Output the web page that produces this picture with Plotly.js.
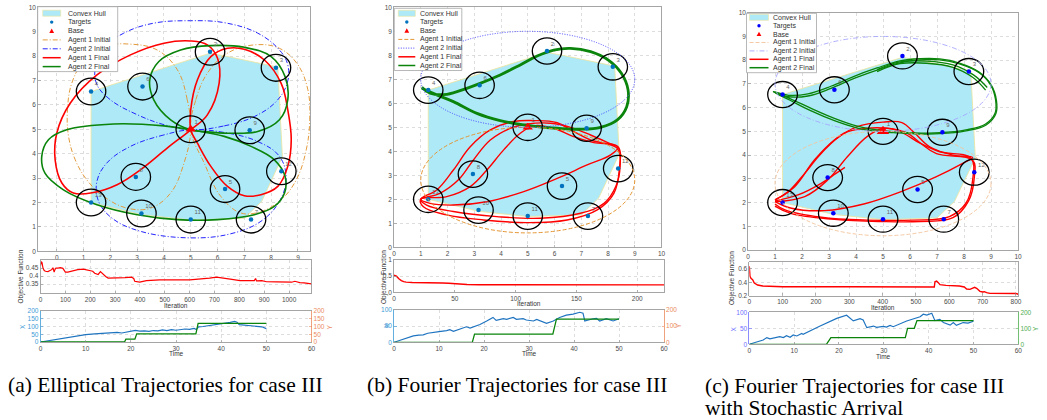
<!DOCTYPE html>
<html><head><meta charset="utf-8">
<script src="https://cdn.plot.ly/plotly-3.0.1.min.js"></script>
<style>html,body{margin:0;padding:0;background:#fff;overflow:hidden}#chart{width:1047px;height:420px}</style>
</head><body><div id="chart"></div>
<script>
// ================= DATA =================
const targetIds = ['1','2','3','4','5','6','7','8','9','10','11','12','13'];
const targetX = [5.0, 5.72, 8.18, 1.28, 6.28, 3.2, 7.25, 2.95, 7.2, 3.16, 5.0, 8.38, 1.28];
const targetY = [5.0, 8.18, 7.52, 6.55, 2.55, 6.75, 1.3, 3.05, 4.96, 1.55, 1.3, 3.28, 2.0];
const baseX = [5.0];
const baseY = [5.0];
const coverRadius = 0.55;
const hullX = [1.28, 5.72, 6.3, 8.25, 8.42, 7.65, 7.0, 5.0, 3.16, 1.28, 1.28];
const hullY = [6.55, 8.12, 8.0, 7.55, 3.88, 2.05, 1.35, 1.28, 1.5, 2.0, 6.55];

// (a) elliptical trajectories (loops separated by null)
const aAgent1InitX = [5.0,4.87,4.5,3.75,2.75,1.75,1.0,0.56,0.4,0.44,0.69,1.12,1.75,2.62,3.5,4.25,4.75,5.0, null,
  5.0,5.19,5.62,6.37,7.37,8.31,9.0,9.37,9.44,9.31,8.94,8.37,7.62,6.87,6.12,5.5,5.0];
const aAgent1InitY = [4.98,6.21,7.44,8.25,8.49,8.39,7.78,6.89,5.8,4.71,3.75,2.93,2.25,1.77,1.77,2.39,3.62,4.98, null,
  4.98,6.21,7.3,8.12,8.46,8.32,7.64,6.62,5.39,4.16,2.93,2.11,1.63,1.57,2.25,3.62,4.98];
const aAgent2InitX = [5.0,6.25,7.37,8.19,8.6,8.62,8.31,7.5,6.25,5.0,3.62,2.5,1.75,1.44,1.5,2.0,3.0,4.0,5.0, null,
  5.0,4.0,2.75,1.87,1.5,1.56,2.06,3.12,5.0,6.5,7.62,8.31,8.56,8.31,7.5,6.25,5.0];
const aAgent2InitY = [4.98,5.14,5.52,6.14,6.89,7.64,8.25,8.94,9.37,9.45,9.35,8.94,8.33,7.58,6.83,6.21,5.6,5.19,4.98, null,
  4.98,4.77,4.3,3.62,2.87,2.05,1.36,0.82,0.55,0.72,1.23,2.05,3.0,3.89,4.5,4.87,4.98];
const aAgent1FinalX = [5.0,5.62,6.06,6.0,5.62,5.0,4.0,2.75,1.5,0.5,0.0,-0.06,0.19,0.62,1.37,2.25,3.12,4.12,5.0, null,
  5.0,5.25,5.75,6.37,7.0,7.62,8.25,8.62,8.75,8.62,8.37,7.75,7.0,6.37,5.75,5.25,5.0,5.0];
const aAgent1FinalY = [4.98,5.59,6.89,7.91,8.46,8.62,8.53,8.05,7.23,6.07,4.84,3.75,2.8,2.39,2.41,2.73,3.34,4.23,4.98, null,
  4.98,4.43,3.48,2.66,2.28,2.32,2.66,3.48,4.57,5.8,6.89,7.84,8.28,8.32,7.98,7.03,5.8,4.98];
const aAgent2FinalX = [5.0,6.25,7.25,8.12,8.52,8.5,8.12,7.37,6.0,4.5,3.0,1.5,0.25,-0.44,-0.56,-0.31,0.37,2.12,4.0,5.0, null,
  5.0,4.25,3.62,3.47,3.81,4.62,5.75,7.0,8.0,8.52,8.62,8.31,7.5,6.37,5.5,5.0];
const aAgent2FinalY = [4.98,4.71,4.3,3.75,3.07,2.39,1.84,1.5,1.3,1.3,1.5,1.91,2.52,3.2,3.89,4.57,4.98,5.22,5.14,4.98, null,
  4.98,5.39,6.21,7.03,7.78,8.25,8.43,8.36,7.98,7.16,6.21,5.39,4.91,4.84,4.91,4.98];

// (b), (c) initial ellipses: [centreX, centreY, semiX, semiY]
const bAgent1InitEllipse = [5.0, 2.8, 4.0, 2.2];
const bAgent2InitEllipse = [5.0, 7.0, 4.0, 2.0];
const cAgent1InitEllipse = [5.0, 2.8, 4.0, 2.2];
const cAgent2InitEllipse = [5.0, 7.0, 4.0, 2.0];

// (b) Fourier final trajectories
const bAgent1FinalX = [1.0,1.72,2.41,2.97,3.6,4.35,5.0,5.85,6.6,7.35,8.1,8.37,8.1,7.22,6.1,4.85,3.47,2.22,1.35,1.0, null,
  1.0,1.6,2.22,2.85,3.6,4.47,5.22,6.1,6.72,7.35,8.35,8.45,8.29,7.85,6.97,5.47,3.85,2.22,1.22,1.0, null,
  1.0,1.97,2.85,3.47,4.1,4.72,5.22,5.97,6.72,7.47,8.37,8.42,8.22,7.6,6.47,4.97,3.35,1.97,1.1,1.0];
const bAgent1FinalY = [2.0,2.25,2.81,3.64,4.47,4.96,5.14,5.17,5.0,4.68,4.31,4.17,3.85,3.43,2.87,2.32,1.9,1.76,1.83,2.0, null,
  2.0,2.39,3.22,4.19,4.89,5.24,5.28,5.19,4.82,4.47,4.12,3.36,2.53,1.83,1.42,1.21,1.28,1.49,1.76,2.0, null,
  2.0,2.11,2.53,3.22,4.06,4.75,5.06,4.96,4.61,4.36,4.19,3.22,2.25,1.56,1.14,1.03,1.14,1.35,1.69,2.0];
const bAgent2FinalX = [1.04,1.35,1.98,2.72,3.22,3.97,4.72,5.35,5.97,6.6,7.35,8.04,8.5,8.75,8.7,8.35,7.72,6.97,6.1,5.35,4.72,3.97,3.1,2.22,1.6,1.04];
const bAgent2FinalY = [6.67,6.42,6.375,6.625,6.83,7.18,7.6,7.97,8.22,8.29,8.15,7.78,7.25,6.56,5.86,5.31,5.0,4.92,4.96,5.03,5.125,5.28,5.58,6.07,6.35,6.625];

// (c) Fourier final trajectories with stochastic arrival
const cAgent1FinalX = [1.0,1.73,2.46,3.2,4.05,5.0,5.7,6.18,6.73,7.59,8.32,7.95,6.98,5.76,4.29,2.83,1.61,1.0, null,
  1.0,1.49,2.1,2.71,3.56,4.41,5.15,5.88,6.37,6.98,8.32,8.38,8.17,7.59,6.37,4.9,3.2,1.61,1.0, null,
  1.0,2.1,2.95,3.68,4.41,5.02,5.63,6.37,7.1,8.26,8.32,8.07,7.46,6.12,4.41,2.71,1.37,1.0, null,
  1.0,1.85,2.71,3.26,3.59];
const cAgent1FinalY = [2.11,2.67,3.79,4.63,5.2,5.39,5.37,4.92,4.35,4.0,3.9,3.65,3.09,2.5,1.94,1.66,1.76,2.04, null,
  2.11,2.46,3.23,4.07,4.92,5.13,5.13,4.94,4.52,4.06,3.78,3.05,2.07,1.36,1.2,1.2,1.29,1.53,1.85, null,
  2.04,2.25,2.95,3.93,4.78,5.13,4.99,4.5,4.14,3.86,2.95,1.97,1.41,1.26,1.26,1.38,1.69,1.94, null,
  2.07,2.32,2.81,3.23,3.48];
const cAgent2FinalX = [0.94,1.49,2.22,3.07,3.93,4.78,5.63,6.37,7.1,7.83,8.56,8.99,9.17,9.15,8.8,8.07,7.1,6.12,5.39,4.78,4.05,3.2,2.34,1.61,0.94, null,
  0.94,1.5,2.22,3.07,3.93,4.78,5.63,6.37,7.1,7.83,8.56,9.0,9.2,9.18,8.82,8.07,7.1,6.12,5.39,4.78,4.05,3.2,2.34,1.61,0.94, null,
  4.78,5.63,6.61,7.59,8.32,8.8, null,
  4.78,5.63,6.61,7.59,8.35,8.86];
const cAgent2FinalY = [6.67,6.46,6.49,6.81,7.23,7.58,7.89,8.01,8.01,7.84,7.47,6.95,6.32,5.76,5.31,5.06,4.94,4.94,4.99,5.06,5.22,5.55,5.97,6.35,6.67, null,
  6.67,6.52,6.58,6.9,7.32,7.67,7.97,8.06,8.05,7.88,7.5,6.97,6.32,5.74,5.27,5.02,4.9,4.9,4.95,5.0,5.14,5.45,5.86,6.28,6.67, null,
  7.52,7.85,7.87,7.7,7.28,6.74, null,
  7.6,7.93,7.96,7.8,7.38,6.85];

// objective function histories
const aIter = [0,3,6,10,15,20,30,40,45,50,55,58,62,70,80,90,100,110,125,150,172,198,210,218,232,241,246,252,262,272,300,319,340,366,375,379,390,399,426,450,480,507,540,567,600,641,680,708,730,748,770,802,830,850,860,865,869,890,909,950,989,1010,1023,1043,1060,1090];
const aObjective = [0.465,0.49,0.485,0.45,0.435,0.43,0.428,0.433,0.44,0.452,0.425,0.44,0.45,0.45,0.452,0.448,0.425,0.425,0.432,0.44,0.443,0.437,0.43,0.418,0.41,0.428,0.42,0.408,0.398,0.388,0.388,0.387,0.39,0.393,0.385,0.368,0.364,0.363,0.372,0.375,0.377,0.377,0.375,0.376,0.377,0.38,0.387,0.394,0.39,0.388,0.38,0.372,0.372,0.37,0.372,0.385,0.37,0.372,0.365,0.364,0.36,0.362,0.368,0.36,0.358,0.352];
const bIter = [0,2,4,6,8,10,15,20,30,40,45,50,55,60,70,100,150,200,222];
const bObjective = [0.53,0.5,0.42,0.36,0.33,0.315,0.305,0.305,0.3,0.29,0.28,0.265,0.25,0.24,0.235,0.235,0.23,0.23,0.23];
const cIter = [0,2,5,10,15,25,40,100,300,550,555,557,562,567,572,590,610,630,645,652,662,670,676,682,692,700,705,712,722,800,807];
const cObjective = [0.64,0.49,0.46,0.44,0.39,0.36,0.345,0.335,0.333,0.325,0.33,0.41,0.42,0.395,0.365,0.355,0.35,0.345,0.33,0.3,0.295,0.31,0.325,0.31,0.265,0.255,0.26,0.245,0.235,0.232,0.222];

// X / Y over time
const aTime = [0,2,4,6,8,9,10,12,14,15,16,17,18,19,20,21,22,23,24,25,26,27,28,29,30,31,32,33,34,34.5,35,36,37,38,39,40,41,42,43,43.5,44,45,46,47,48,49,50];
const aXval = [0,10,20,30,42,44,48,52,56,60,58,62,58,63,70,75,70,72,68,74,72,78,74,80,76,82,84,82,88,80,98,100,104,108,112,118,122,127,133,128,112,110,106,104,100,98,86];
const aYtime = [0,18.6,18.9,20.9,21.3,34.4,34.9,50];
const aYval = [0,0,18,18,53,53,120,120];
const bTime = [0,2,4.3,5.5,6.5,7.5,8.7,10,11.7,12.4,13.2,14.5,16.1,16.9,18,19.1,20.6,22,22.7,24.3,25,26.5,27.2,28.7,29.4,31,31.7,33.1,33.9,35.4,36.8,38.3,39.8,41.3,42,42.4,43.2,44.2,45,45.7,47.2,48.7,50];
const bXval = [0,9,20,22,23,28,31,33,36,39,34,40,48,44,50,55,66,77,68,73,71,77,71,73,69,66,71,63,59,66,77,84,87,93,90,66,70,73,74,66,73,66,73];
const bYtime = [0,17.4,17.9,35.3,36.1,50];
const bYval = [0,0,51,51,143,143];
const cTime = [0,3.1,3.9,4.6,6.8,7.6,8.3,9.1,9.8,10.6,11.7,12,15.8,19.5,21.7,22.5,23.2,24.7,25.4,26.2,27.7,28.4,29.9,30.6,31.4,32.1,33.6,35.1,38.1,38.8,39.6,40.7,41.4,42.5,43.3,44.8,45.5,46.2,47.7,48.8,50];
const cXval = [0,13.5,21,17,24,21,27,22,29,26,34,31,57,81,91,81,73,80,76,52,57,53,56,54,59,55,64,73,86,94,91,97,74,78,68,60,68,59,68,66,72];
const cYtime = [0,17.2,18.2,34.8,35.3,36.8,37.4,50];
const cYval = [0,0,42,42,100,100,148,148];

// text
const legendLabels = ['Convex Hull','Targets','Base','Agent 1 Initial','Agent 2 Initial','Agent 1 Final','Agent 2 Final'];
const axisTitles = {objective:'Objective Function', iteration:'Iteration', time:'Time', x:'X', y:'Y'};
const captions = ['(a) Elliptical Trajectories for case III','(b) Fourier Trajectories for case III','(c) Fourier Trajectories for case III','with Stochastic Arrival'];

// ================= LAYOUT HELPERS =================
const W = 1047, H = 420;
const SANS = 'Liberation Sans, Arial, Helvetica, sans-serif';
const SERIF = 'Liberation Serif, Times New Roman, serif';
const px = v => v / W;
const py = v => 1 - v / H;
const P = {
  aMain:{l:38,r:310,t:7.3,b:251.3}, aObj:{l:40.5,r:311.5,t:260,b:293}, aTime:{l:40.5,r:311.5,t:311,b:342},
  bMain:{l:394,r:661.5,t:7.3,b:247.3}, bObj:{l:394,r:664,t:260,b:292.3}, bTime:{l:394,r:664,t:310,b:342.3},
  cMain:{l:748,r:1018,t:12.7,b:250}, cObj:{l:749.3,r:1018.3,t:262.3,b:295.7}, cTime:{l:749.3,r:1018.3,t:312.3,b:344.3}
};
const FRAME = '#8f8f8f';
function tf(color){ return {family:SANS, size:6.5, color:color || '#4a4a4a'}; }
function ax(p, dir, extra){
  const d = dir === 'x' ? [p.l / W, p.r / W] : [1 - p.b / H, 1 - p.t / H];
  return Object.assign({
    domain:d, showline:true, linecolor:FRAME, linewidth:0.8, mirror:true,
    ticks:'inside', ticklen:2.5, tickcolor:FRAME, tickwidth:0.6, tickfont:tf(),
    showgrid:true, gridcolor:'#cfcfcf', griddash:'dot', gridwidth:0.7,
    zeroline:false, fixedrange:true, automargin:false
  }, extra);
}
const LB_AB = '#3d9ad6', OR_AB = '#ec8a5e', LB_C = '#6f6fff', GR_C = '#4fae4f';
const layout = {
  width:W, height:H, margin:{l:0,r:0,t:0,b:0}, paper_bgcolor:'#ffffff', plot_bgcolor:'#ffffff',
  showlegend:false, font:{family:SANS, size:6.5, color:'#444'}, shapes:[], annotations:[],
  xaxis: ax(P.aMain,'x',{range:[-0.7,9.45], dtick:1, tick0:0, anchor:'y'}),
  yaxis: ax(P.aMain,'y',{range:[0,10], dtick:1, anchor:'x'}),
  xaxis2: ax(P.aObj,'x',{range:[0,1090], dtick:100, anchor:'y2'}),
  yaxis2: ax(P.aObj,'y',{range:[0.295,0.5], tickvals:[0.35,0.4,0.45], ticktext:['0.35','0.4','0.45'], anchor:'x2'}),
  xaxis3: ax(P.aTime,'x',{range:[0,60], dtick:10, anchor:'y3'}),
  yaxis3: ax(P.aTime,'y',{range:[0,200], dtick:50, anchor:'x3', mirror:false, linecolor:LB_AB, tickcolor:LB_AB, tickfont:tf(LB_AB)}),
  yaxis4: ax(P.aTime,'y',{range:[0,200], dtick:50, anchor:'x3', overlaying:'y3', side:'right', showgrid:false, mirror:false, linecolor:OR_AB, tickcolor:OR_AB, tickfont:tf(OR_AB)}),
  xaxis4: ax(P.bMain,'x',{range:[0,10], dtick:1, anchor:'y5'}),
  yaxis5: ax(P.bMain,'y',{range:[0,10], dtick:1, anchor:'x4'}),
  xaxis5: ax(P.bObj,'x',{range:[0,222], dtick:50, anchor:'y6'}),
  yaxis6: ax(P.bObj,'y',{range:[0,1], tickvals:[0,0.5,1], anchor:'x5'}),
  xaxis6: ax(P.bTime,'x',{range:[0,60], dtick:10, anchor:'y7'}),
  yaxis7: ax(P.bTime,'y',{range:[0,100], dtick:50, anchor:'x6', mirror:false, linecolor:LB_AB, tickcolor:LB_AB, tickfont:tf(LB_AB)}),
  yaxis8: ax(P.bTime,'y',{range:[0,200], dtick:100, anchor:'x6', overlaying:'y7', side:'right', showgrid:false, mirror:false, linecolor:OR_AB, tickcolor:OR_AB, tickfont:tf(OR_AB)}),
  xaxis7: ax(P.cMain,'x',{range:[0,10], dtick:1, anchor:'y9'}),
  yaxis9: ax(P.cMain,'y',{range:[0,10], dtick:1, anchor:'x7'}),
  xaxis8: ax(P.cObj,'x',{range:[0,807], dtick:100, anchor:'y10'}),
  yaxis10: ax(P.cObj,'y',{range:[0.2,0.7], tickvals:[0.2,0.4,0.6], anchor:'x8'}),
  xaxis9: ax(P.cTime,'x',{range:[0,60], dtick:10, anchor:'y11'}),
  yaxis11: ax(P.cTime,'y',{range:[0,100], dtick:50, anchor:'x9', mirror:false, linecolor:LB_C, tickcolor:LB_C, tickfont:tf(LB_C)}),
  yaxis12: ax(P.cTime,'y',{range:[0,200], dtick:100, anchor:'x9', overlaying:'y11', side:'right', showgrid:false, mirror:false, linecolor:GR_C, tickcolor:GR_C, tickfont:tf(GR_C)})
};

// ================= TRACES =================
const HULL_FILL = '#aee9f7', HULL_EDGE = '#eee59a';
const RED = '#ff0000', GREEN = '#0a840a', BLUE_LINE = '#1f74c0';
const styles = {
  a:{target:'#0072BD', base:9, init1:{color:'#e39b3c', dash:'5px,2px,1px,2px', width:1}, init2:{color:'#2424ff', dash:'5px,2px,1px,2px', width:1}, fin1:1.6, fin2:1.6},
  b:{target:'#0072BD', base:9, init1:{color:'#e39532', dash:'4px,2px', width:1}, init2:{color:'#4646ff', dash:'1px,1.5px', width:1}, fin1:1.4, fin2:2.8},
  c:{target:'#0000ff', base:11, init1:{color:'#f3c39a', dash:'4px,2px', width:0.9}, init2:{color:'#a6a6ff', dash:'5px,2px,1px,2px', width:0.9}, fin1:1.4, fin2:1.3}
};
const traces = [];
function line(xs, ys, xa, ya, l, shape){
  traces.push({type:'scatter', mode:'lines', x:xs, y:ys, xaxis:xa, yaxis:ya, line:Object.assign({shape:shape||'linear', smoothing:1.1}, l), connectgaps:false, hoverinfo:'skip'});
}
function mainPanel(xa, ya, st, init1, init2, fin1, fin2){
  traces.push({type:'scatter', mode:'lines', x:hullX, y:hullY, xaxis:xa, yaxis:ya, fill:'toself', fillcolor:HULL_FILL, line:{color:HULL_EDGE, width:0.8}, hoverinfo:'skip'});
  if(init1) line(init1[0], init1[1], xa, ya, st.init1, 'spline');
  if(init2) line(init2[0], init2[1], xa, ya, st.init2, 'spline');
  line(fin1[0], fin1[1], xa, ya, {color:RED, width:st.fin1}, 'spline');
  line(fin2[0], fin2[1], xa, ya, {color:GREEN, width:st.fin2}, 'spline');
  traces.push({type:'scatter', mode:'markers+text', x:targetX, y:targetY, text:targetIds, textposition:'top right', textfont:{family:SANS, size:6, color:'#666'}, marker:{color:st.target, size:4.5}, xaxis:xa, yaxis:ya, hoverinfo:'skip', cliponaxis:false});
  traces.push({type:'scatter', mode:'markers', x:baseX, y:baseY, marker:{symbol:'triangle-up', color:'#ff0000', size:st.base, line:{width:0}}, xaxis:xa, yaxis:ya, hoverinfo:'skip'});
  targetX.forEach((tx, i) => layout.shapes.push({type:'circle', xref:xa, yref:ya, x0:tx - coverRadius, x1:tx + coverRadius, y0:targetY[i] - coverRadius, y1:targetY[i] + coverRadius, line:{color:'#000', width:1.3}, layer:'above'}));
}
function ellipseShape(xa, ya, e, l){
  layout.shapes.push({type:'circle', xref:xa, yref:ya, x0:e[0]-e[2], x1:e[0]+e[2], y0:e[1]-e[3], y1:e[1]+e[3], line:l, layer:'above'});
}

mainPanel('x','y', styles.a, [aAgent1InitX, aAgent1InitY], [aAgent2InitX, aAgent2InitY], [aAgent1FinalX, aAgent1FinalY], [aAgent2FinalX, aAgent2FinalY]);
mainPanel('x4','y5', styles.b, null, null, [bAgent1FinalX, bAgent1FinalY], [bAgent2FinalX, bAgent2FinalY]);
ellipseShape('x4','y5', bAgent1InitEllipse, styles.b.init1);
ellipseShape('x4','y5', bAgent2InitEllipse, styles.b.init2);
mainPanel('x7','y9', styles.c, null, null, [cAgent1FinalX, cAgent1FinalY], [cAgent2FinalX, cAgent2FinalY]);
ellipseShape('x7','y9', cAgent1InitEllipse, styles.c.init1);
ellipseShape('x7','y9', cAgent2InitEllipse, styles.c.init2);

line(aIter, aObjective, 'x2','y2', {color:RED, width:1.2});
line(bIter, bObjective, 'x5','y6', {color:RED, width:1.4});
line(cIter, cObjective, 'x8','y10', {color:RED, width:1.4});

line(aTime, aXval, 'x3','y3', {color:BLUE_LINE, width:1.2});
line(aYtime, aYval, 'x3','y4', {color:GREEN, width:1.3});
line(bTime, bXval, 'x6','y7', {color:BLUE_LINE, width:1.2});
line(bYtime, bYval, 'x6','y8', {color:GREEN, width:1.3});
line(cTime, cXval, 'x9','y11', {color:BLUE_LINE, width:1.2});
line(cYtime, cYval, 'x9','y12', {color:GREEN, width:1.3});

// ================= LEGENDS (drawn as decoration) =================
function legend(x0, y0, w, rh, first, sx0, sx1, tx, st){
  const rows = legendLabels.length;
  layout.shapes.push({type:'rect', xref:'paper', yref:'paper', x0:px(x0), x1:px(x0+w), y0:py(y0), y1:py(y0 + first + rh*(rows-1) + 5), fillcolor:'#ffffff', line:{color:'#a6a6a6', width:0.8}, layer:'above'});
  const mid = (x0+sx0 + x0+sx1)/2;
  legendLabels.forEach((lab, i) => {
    const cy = y0 + first + rh*i;
    const a = x0+sx0, b = x0+sx1;
    if(i === 0) layout.shapes.push({type:'rect', xref:'paper', yref:'paper', x0:px(a), x1:px(b), y0:py(cy+3), y1:py(cy-3), fillcolor:HULL_FILL, line:{color:HULL_EDGE, width:0.6}, layer:'above'});
    if(i === 1) layout.shapes.push({type:'circle', xref:'paper', yref:'paper', x0:px(mid-1.7), x1:px(mid+1.7), y0:py(cy+1.7), y1:py(cy-1.7), fillcolor:st.target, line:{width:0}, layer:'above'});
    if(i === 2) layout.shapes.push({type:'path', xref:'paper', yref:'paper', path:`M ${px(mid-2.4)},${py(cy+2)} L ${px(mid+2.4)},${py(cy+2)} L ${px(mid)},${py(cy-2.4)} Z`, fillcolor:'#ff0000', line:{width:0}, layer:'above'});
    const ls = [null, null, null, st.init1, st.init2, {color:RED, width:1.5}, {color:GREEN, width:1.5}][i];
    if(ls) layout.shapes.push({type:'line', xref:'paper', yref:'paper', x0:px(a), x1:px(b), y0:py(cy), y1:py(cy), line:ls, layer:'above'});
    layout.annotations.push({xref:'paper', yref:'paper', x:px(x0+tx), y:py(cy), text:lab, showarrow:false, xanchor:'left', yanchor:'middle', font:{family:SANS, size:7, color:'#333'}});
  });
}
legend(37.7, 6.7, 80, 8.9, 6.5, 5, 23, 28, styles.a);
legend(394.3, 8.3, 67.5, 8.7, 5.0, 4, 21, 24, styles.b);
legend(746.5, 13.3, 70, 8.4, 4.0, 3, 22, 24, styles.c);

// ================= AXIS TITLES =================
function note(text, x, y, opts){
  layout.annotations.push(Object.assign({xref:'paper', yref:'paper', x:px(x), y:py(y), text:text, showarrow:false, xanchor:'center', yanchor:'middle', font:{family:SANS, size:6.5, color:'#333'}}, opts||{}));
}
note(axisTitles.objective, 20, 276.5, {textangle:-90});
note(axisTitles.iteration, 176, 305.5);
note(axisTitles.x, 22, 327, {textangle:-90, font:{family:SANS, size:6.5, color:LB_AB}});
note(axisTitles.y, 328.5, 327, {textangle:-90, font:{family:SANS, size:6.5, color:OR_AB}});
note(axisTitles.time, 176, 353.5);

note(axisTitles.objective, 384, 277, {textangle:-90});
note(axisTitles.iteration, 529, 303.5);
note(axisTitles.x, 386, 326, {textangle:-90, font:{family:SANS, size:6.5, color:LB_AB}});
note(axisTitles.y, 678, 326, {textangle:-90, font:{family:SANS, size:6.5, color:OR_AB}});
note(axisTitles.time, 529, 353.5);

note(axisTitles.objective, 731.5, 278.5, {textangle:-90});
note(axisTitles.iteration, 883, 307.5);
note(axisTitles.x, 732.5, 329, {textangle:-90, font:{family:SANS, size:6.5, color:LB_C}});
note(axisTitles.y, 1035, 329, {textangle:-90, font:{family:SANS, size:6.5, color:GR_C}});
note(axisTitles.time, 883, 356);

// ================= CAPTIONS =================
const capFont = {family:SERIF, size:21.5, color:'#000'};
note(captions[0], 6, 385, {xanchor:'left', font:capFont});
note(captions[1], 365, 385, {xanchor:'left', font:capFont});
note(captions[2], 703, 385.5, {xanchor:'left', font:capFont});
note(captions[3], 703, 407.5, {xanchor:'left', font:capFont});

Plotly.newPlot('chart', traces, layout, {staticPlot:true, displayModeBar:false});
</script>
</body></html>
